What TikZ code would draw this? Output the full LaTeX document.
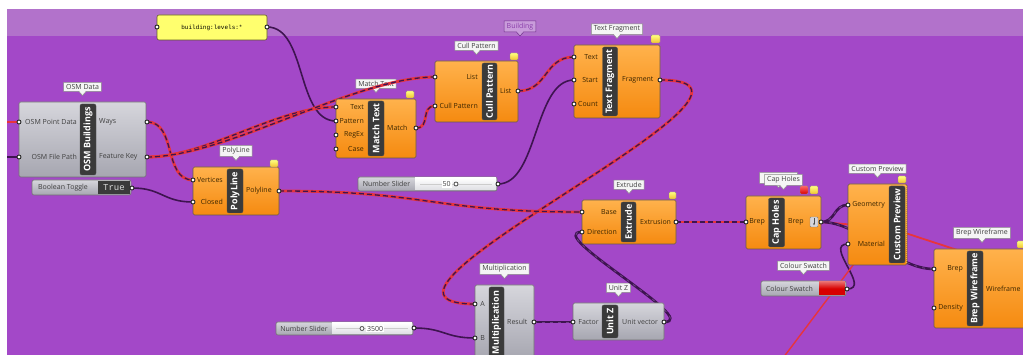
\documentclass[tikz,border=0pt]{standalone}
\usepackage{fontspec}
\setmainfont{Open Sans}
\newfontfamily\monofont{Liberation Mono}
\usetikzlibrary{positioning,shapes.callouts,arrows.meta}

\definecolor{canvas}{HTML}{A348C8}
\definecolor{canvastop}{HTML}{B272CB}
\definecolor{ghtop}{HTML}{FFB24C}
\definecolor{ghbot}{HTML}{F58A10}
\definecolor{gptop}{HTML}{D6D6DC}
\definecolor{gpbot}{HTML}{A6A6B0}
\definecolor{edge}{HTML}{6A5A4A}
\definecolor{barfill}{HTML}{3A3A3A}
\definecolor{porttext}{HTML}{3C2600}
\definecolor{wirered}{HTML}{E8343C}
\definecolor{wiredark}{HTML}{3E1450}
\definecolor{wiredash}{HTML}{6E3C86}
\definecolor{tagfill}{HTML}{F5F5F5}
\definecolor{panelfill}{HTML}{FFFF6E}
\definecolor{flag}{HTML}{F2C230}
\definecolor{swatch}{HTML}{D80000}

\pgfdeclarelayer{canvaslayer}
\pgfdeclarelayer{taglayer}
\pgfdeclarelayer{wirelayer}
\pgfsetlayers{canvaslayer,taglayer,wirelayer,main}

\tikzset{
  comp/.style={rectangle, rounded corners=1.5pt, draw=edge, line width=0.6pt,
    top color=ghtop, bottom color=ghbot, inner sep=0pt},
  gcomp/.style={comp, draw=black!55, top color=gptop, bottom color=gpbot},
  bar/.style={rectangle, rounded corners=2pt, fill=barfill, draw=black!70,
    text=white, font=\bfseries\fontsize{9}{9}\selectfont, rotate=90, inner sep=0pt},
  port/.style={font=\fontsize{7}{7}\selectfont, text=porttext, inner sep=0pt},
  gport/.style={port, text=black!75},
  tag/.style={rectangle callout, callout relative pointer={(0,-4pt)}, fill=tagfill,
    draw=black!45, line width=0.5pt, font=\fontsize{7}{7}\selectfont, text=black!75,
    inner xsep=2.5pt, inner ysep=2pt},
  grip/.style={circle, fill=white, draw=black!85, line width=0.9pt, minimum size=4pt, inner sep=0pt},
  knob/.style={circle, fill=white, draw=black!70, line width=0.8pt, minimum size=4pt, inner sep=0pt},
  flagbox/.style={rounded corners=1pt, top color=yellow!50!white, bottom color=flag,
    draw=edge!70, line width=0.4pt},
  listwire/.style={draw=wirered, line width=2.8pt,
    postaction={draw=wiredark, line width=1.3pt, dash pattern=on 5pt off 3pt}},
  darklist/.style={draw=wiredark, line width=2.6pt,
    postaction={draw=wiredash, line width=0.9pt, dash pattern=on 3pt off 5pt}},
  itemwire/.style={draw=wiredark, line width=1.6pt},
  selwire/.style={draw=wirered, line width=1.8pt},
}

\begin{document}
\begin{tikzpicture}[x=1pt, y=-1pt]
  \useasboundingbox (0,0) rectangle (1023,355);

  % canvas
  \begin{pgfonlayer}{canvaslayer}
    \fill[white] (0,0) rectangle (1023,355);
    \fill[canvas] (7,9) rectangle (1023,355);
    \fill[canvastop] (7,9) rectangle (1023,36);
  \end{pgfonlayer}

  % parameter grips
  \coordinate (osm-pt) at (19,122);
  \coordinate (osm-path) at (19,157);
  \coordinate (osm-ways) at (147,122);
  \coordinate (osm-key) at (147,157);
  \coordinate (tog-out) at (132,188);
  \coordinate (pan-in) at (157,27);
  \coordinate (pan-out) at (267,27);
  \coordinate (pl-vert) at (193,180);
  \coordinate (pl-closed) at (193,202);
  \coordinate (pl-out) at (279,191);
  \coordinate (mt-text) at (336,107);
  \coordinate (mt-pat) at (336,121);
  \coordinate (mt-regex) at (336,135);
  \coordinate (mt-case) at (336,149);
  \coordinate (mt-out) at (416,128);
  \coordinate (cp-list) at (435,77);
  \coordinate (cp-pat) at (435,106);
  \coordinate (cp-out) at (518,91);
  \coordinate (tf-text) at (574,57);
  \coordinate (tf-start) at (574,80);
  \coordinate (tf-count) at (574,104);
  \coordinate (tf-out) at (660,80);
  \coordinate (s50-out) at (498,184);
  \coordinate (ex-base) at (582,212);
  \coordinate (ex-dir) at (582,232);
  \coordinate (ex-out) at (676,222);
  \coordinate (mul-a) at (475,304);
  \coordinate (mul-b) at (475,338);
  \coordinate (mul-out) at (534,322);
  \coordinate (uz-in) at (573,322);
  \coordinate (uz-out) at (664,322);
  \coordinate (s35-out) at (414,328);
  \coordinate (ch-in) at (746,222);
  \coordinate (ch-out) at (821,222);
  \coordinate (pv-geo) at (848,205);
  \coordinate (pv-mat) at (848,244);
  \coordinate (sw-out) at (847,289);
  \coordinate (bw-brep) at (934,269);
  \coordinate (bw-dens) at (934,308);
  % loose wire ends
  \coordinate (feed-pt) at (7,122);
  \coordinate (feed-path) at (7,157);
  \coordinate (red-a) at (780,362);
  \coordinate (red-b) at (875,236);
  \coordinate (red-c) at (1000,264);

  % wires
  \begin{pgfonlayer}{wirelayer}
    \draw[selwire] (feed-pt) -- (osm-pt);
    \draw[itemwire] (feed-path) -- (osm-path);
    \draw[itemwire] (pan-out) .. controls +(40,0) and +(-40,0) .. (mt-pat);
    \draw[itemwire] (tog-out) .. controls +(30,0) and +(-30,0) .. (pl-closed);
    \draw[itemwire] (s50-out) .. controls +(40,0) and +(-40,0) .. (tf-start);
    \draw[itemwire] (s35-out) .. controls +(30,0) and +(-30,0) .. (mul-b);
    \draw[itemwire] (sw-out) .. controls +(25,0) and +(-25,0) .. (pv-mat);
    \draw[selwire, line width=1.4pt] (red-a) -- (red-b);
    \draw[selwire] (ch-out) -- (890,228) -- (red-c);
    \draw[darklist] (mul-out) -- (uz-in);
    \draw[darklist] (uz-out) .. controls +(40,0) and +(-40,0) .. (ex-dir);
    \draw[darklist] (ch-out) .. controls +(15,0) and +(-15,0) .. (pv-geo);
    \draw[darklist] (ch-out) .. controls +(40,0) and +(-40,0) .. (bw-brep);
    \draw[listwire] (osm-ways) .. controls +(30,0) and +(-30,0) .. (pl-vert);
    \draw[listwire] (osm-key) .. controls +(60,0) and +(-60,0) .. (mt-text);
    \draw[listwire] (osm-key) .. controls +(80,0) and +(-80,0) .. (cp-list);
    \draw[listwire] (mt-out) .. controls +(15,0) and +(-15,0) .. (cp-pat);
    \draw[listwire] (cp-out) .. controls +(30,0) and +(-30,0) .. (tf-text);
    \draw[listwire] (tf-out) .. controls +(160,0) and +(-160,0) .. (mul-a);
    \draw[listwire] (pl-out) .. controls +(150,0) and +(-150,0) .. (ex-base);
    \draw[listwire] (ex-out) .. controls +(30,0) and +(-30,0) .. (ch-in);
  \end{pgfonlayer}

  % group tag
  \begin{pgfonlayer}{taglayer}
    \node[tag, fill=canvastop!70!white, draw=canvas!70!black, text=canvas!85!black] (grouptag) at (520,26.5) {Building};
  \end{pgfonlayer}

  % panel
  \node[rectangle, rounded corners=2pt, fill=panelfill, draw=olive!60!black, line width=0.6pt,
    minimum width=110pt, minimum height=25pt, font=\monofont\fontsize{6}{6}\selectfont] (levels) at (212,27.5) {building:levels:*};

  % OSM Buildings
  \node[gcomp, minimum width=127pt, minimum height=75pt] (osm) at (82.5,139.5) {};
  \node[bar, minimum width=71pt, minimum height=16pt] at (88,139.5) {OSM Buildings};
  \node[gport, anchor=east] at (77,122) {OSM Point Data};
  \node[gport, anchor=east] at (77,157) {OSM File Path};
  \node[gport, anchor=west] at (99,122) {Ways};
  \node[gport, anchor=west] at (99,157) {Feature Key};
  \begin{pgfonlayer}{taglayer}
    \node[tag, above=10pt of osm] {OSM Data};
  \end{pgfonlayer}

  % Boolean Toggle
  \node[gcomp, rounded corners=2pt, minimum width=99pt, minimum height=15pt] (toggle) at (81.5,187.5) {};
  \node[gport, anchor=west] at (38,187.5) {Boolean Toggle};
  \node[fill=barfill, minimum width=32pt, minimum height=13pt, inner sep=0pt,
    font=\monofont\fontsize{9}{9}\selectfont, text=white!85!black] at (114,187.5) {True};

  % PolyLine
  \node[comp, minimum width=86pt, minimum height=48pt] (poly) at (236,191) {};
  \node[bar, minimum width=44pt, minimum height=16pt] at (235,191) {PolyLine};
  \node[port, anchor=east] at (223,180) {Vertices};
  \node[port, anchor=east] at (223,202) {Closed};
  \node[port, anchor=west] at (246,191) {Polyline};
  \draw[flagbox] (270,160) rectangle (278,167);
  \begin{pgfonlayer}{taglayer}
    \node[tag, above=10pt of poly] {PolyLine};
  \end{pgfonlayer}

  % Match Text
  \node[comp, minimum width=80pt, minimum height=59pt] (match) at (376,128.5) {};
  \node[bar, minimum width=55pt, minimum height=16pt] at (376,128.5) {Match Text};
  \node[port, anchor=east] at (364,107) {Text};
  \node[port, anchor=east] at (364,121) {Pattern};
  \node[port, anchor=east] at (364,135) {RegEx};
  \node[port, anchor=east] at (364,149) {Case};
  \node[port, anchor=west] at (387,128) {Match};
  \draw[flagbox] (406,91) rectangle (414,98);
  \begin{pgfonlayer}{taglayer}
    \node[tag, above=10pt of match] {Match Text};
  \end{pgfonlayer}

  % Cull Pattern
  \node[comp, minimum width=83pt, minimum height=61pt] (cull) at (476.5,91.5) {};
  \node[bar, minimum width=57pt, minimum height=15pt] at (489.5,91.5) {Cull Pattern};
  \node[port, anchor=east] at (478,77) {List};
  \node[port, anchor=east] at (478,106) {Cull Pattern};
  \node[port, anchor=west] at (500,91) {List};
  \draw[flagbox] (510,53) rectangle (518,60);
  \begin{pgfonlayer}{taglayer}
    \node[tag, above=10pt of cull] {Cull Pattern};
  \end{pgfonlayer}

  % Text Fragment
  \node[comp, minimum width=86pt, minimum height=73pt] (frag) at (617,81.5) {};
  \node[bar, minimum width=69pt, minimum height=15pt] at (610,81.5) {Text Fragment};
  \node[port, anchor=east] at (598,57) {Text};
  \node[port, anchor=east] at (598,80) {Start};
  \node[port, anchor=east] at (598,104) {Count};
  \node[port, anchor=west] at (622,80) {Fragment};
  \draw[flagbox] (651,35) rectangle (660,43);
  \begin{pgfonlayer}{taglayer}
    \node[tag, above=10pt of frag] {Text Fragment};
  \end{pgfonlayer}

  % Number Slider (50)
  \node[gcomp, rounded corners=2pt, minimum width=139pt, minimum height=14pt] (slider50) at (427.5,184) {};
  \fill[top color=white, bottom color=gptop!80!white] (415,178) rectangle (496,190);
  \draw[black!20, line width=0.4pt] (420,184) -- (492,184);
  \node[gport] at (386.5,184) {Number Slider};
  \node[gport, fill=white, inner sep=1pt] at (446.5,184) {50};
  \node[knob] at (456,184) {};

  % Extrude
  \node[comp, minimum width=94pt, minimum height=44pt] (extrude) at (629,222) {};
  \node[bar, minimum width=40pt, minimum height=15pt] at (628.5,222) {Extrude};
  \node[port, anchor=east] at (617,212) {Base};
  \node[port, anchor=east] at (617,232) {Direction};
  \node[port, anchor=west] at (640,222) {Extrusion};
  \draw[flagbox] (669,192) rectangle (676,199);
  \begin{pgfonlayer}{taglayer}
    \node[tag, above=10pt of extrude] {Extrude};
  \end{pgfonlayer}

  % Multiplication
  \node[gcomp, minimum width=59pt, minimum height=75pt] (mult) at (504.5,322.5) {};
  \node[bar, minimum width=71pt, minimum height=15pt] at (496.5,322.5) {Multiplication};
  \node[gport, anchor=east] at (485,304) {A};
  \node[gport, anchor=east] at (485,338) {B};
  \node[gport, anchor=west] at (507,322) {Result};
  \begin{pgfonlayer}{taglayer}
    \node[tag, above=10pt of mult] {Multiplication};
  \end{pgfonlayer}

  % Number Slider (3500)
  \node[gcomp, rounded corners=2pt, minimum width=137pt, minimum height=13pt] (slider3500) at (344.5,328.5) {};
  \fill[top color=white, bottom color=gptop!80!white] (332,323) rectangle (412,334);
  \draw[black!20, line width=0.4pt] (336,328.5) -- (408,328.5);
  \node[gport] at (304,328.5) {Number Slider};
  \node[knob] at (362,328.5) {};
  \node[gport, anchor=west, fill=white, inner sep=1pt] at (366,328.5) {3500};

  % Unit Z
  \node[gcomp, minimum width=91pt, minimum height=37pt] (unitz) at (618.5,321.5) {};
  \node[bar, minimum width=33pt, minimum height=16pt] at (610,321.5) {Unit Z};
  \node[gport, anchor=east] at (599,322) {Factor};
  \node[gport, anchor=west] at (622,322) {Unit vector};
  \begin{pgfonlayer}{taglayer}
    \node[tag, above=10pt of unitz] {Unit Z};
  \end{pgfonlayer}

  % Cap Holes
  \node[comp, minimum width=75pt, minimum height=53pt] (caps) at (783.5,222.5) {};
  \node[bar, minimum width=49pt, minimum height=16pt] at (776.5,222.5) {Cap Holes};
  \node[port, anchor=east] at (765,222) {Brep};
  \node[port, anchor=west] at (788,222) {Brep};
  \draw[fill=gptop, draw=black!50, rounded corners=1pt] (810,217) rectangle (818,227);
  \draw[-{Stealth[length=2.5pt]}, black!70, line width=0.6pt] (814,218.5) -- (814,225.5);
  \draw[rounded corners=1pt, top color=red!60!white, bottom color=red!85!black, draw=edge!70, line width=0.4pt] (800,186) rectangle (808,194);
  \draw[flagbox] (810,186) rectangle (818,194);
  \begin{pgfonlayer}{taglayer}
    \node[tag, above=10pt of caps, xshift=-5pt, yshift=2pt] {\phantom{Cap Holes}};
    \node[tag, above=10pt of caps] {Cap Holes};
  \end{pgfonlayer}

  % Custom Preview
  \node[comp, minimum width=59pt, minimum height=81pt] (preview) at (877.5,224.5) {};
  \node[bar, minimum width=77pt, minimum height=16pt] at (897,224.5) {Custom Preview};
  \draw[flag, line width=1pt, dash pattern=on 1pt off 1pt] (906.5,186) -- (906.5,263);
  \node[port, anchor=east] at (885,205) {Geometry};
  \node[port, anchor=east] at (885,244) {Material};
  \draw[flagbox] (898,176) rectangle (906,183);
  \begin{pgfonlayer}{taglayer}
    \node[tag, above=10pt of preview] {Custom Preview};
  \end{pgfonlayer}

  % Colour Swatch
  \node[gcomp, rounded corners=2pt, minimum width=85pt, minimum height=15pt] (swatchbox) at (803.5,288.5) {};
  \fill[top color=swatch!60!white, bottom color=swatch, middle color=swatch] (819,282) rectangle (845,295);
  \node[gport] at (789.5,288.5) {Colour Swatch};
  \begin{pgfonlayer}{taglayer}
    \node[tag, above=10pt of swatchbox] {Colour Swatch};
  \end{pgfonlayer}

  % Brep Wireframe
  \node[comp, minimum width=96pt, minimum height=79pt] (wire) at (982,288.5) {};
  \node[bar, minimum width=75pt, minimum height=16pt] at (975,288.5) {Brep Wireframe};
  \node[port, anchor=east] at (963,269) {Brep};
  \node[port, anchor=east] at (963,308) {Density};
  \node[port, anchor=west] at (986,289) {Wireframe};
  \draw[flagbox] (1017,241) rectangle (1025,248);
  \begin{pgfonlayer}{taglayer}
    \node[tag, above=10pt of wire] {Brep Wireframe};
  \end{pgfonlayer}

  % grips on top
  \foreach \g in {osm-pt, osm-path, osm-ways, osm-key, tog-out, pan-in, pan-out,
      pl-vert, pl-closed, pl-out, mt-text, mt-pat, mt-regex, mt-case, mt-out,
      cp-list, cp-pat, cp-out, tf-text, tf-start, tf-count, tf-out, s50-out,
      ex-base, ex-dir, ex-out, mul-a, mul-b, mul-out, uz-in, uz-out, s35-out,
      ch-in, ch-out, pv-geo, pv-mat, sw-out, bw-brep, bw-dens}
    \node[grip] at (\g) {};
\end{tikzpicture}
\end{document}
